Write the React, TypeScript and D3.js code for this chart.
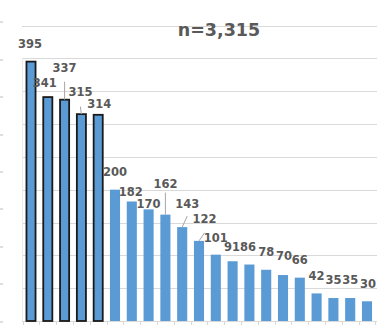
import React from "react";
import * as d3 from "d3";

const categories = Array.from({ length: 21 }, (_, i) => `c${i + 1}`);
const values = [395, 341, 337, 315, 314, 200, 182, 170, 162, 143, 122, 101, 91, 86, 78, 70, 66, 42, 35, 35, 30];
const highlighted = [true, true, true, true, true, false, false, false, false, false, false, false, false, false, false, false, false, false, false, false, false];
const yTicks = [50, 100, 150, 200, 250, 300, 350, 400, 450];
const title = "n=3,315";

// label placement offsets (dx from bar center, dy of baseline from bar top)
const labelOffsets: [number, number][] = [
  [-1, -14], [-3, -10.4], [0, -28], [-1, -18.5], [1, -7], [0, -14], [-1, -5.7], [0, -1.5],
  [0, -27], [5, -19], [5.5, -18], [0, -12.8], [-0.5, -10], [-1.5, -13.6], [0, -14], [1, -15],
  [0, -13.7], [0, -13.5], [0, -14], [0, -14], [1, -13.3],
];
// leader lines: bar index and gap below label baseline
const leaders: [number, number][] = [[2, 10], [3, 11], [8, 5], [9, 8], [10, 10]];

const W = 385, H = 329;

export default function App() {
  const x = d3.scaleBand<string>().domain(categories).range([22.6, 375.4]).paddingInner(0.4).paddingOuter(0.2);
  const y = d3.scaleLinear().domain([0, 450]).range([321, 25.5]);
  const bw = x.bandwidth();
  const step = x.step();
  const font = "'DejaVu Sans', Verdana, sans-serif";
  const leftMarks = [22, 60, 97, 135, 172, 209, 247, 284, 322];
  return (
    <svg width={W} height={H} style={{ position: "absolute", left: 0, top: 0, background: "#fff" }} fontFamily={font}>
      <rect x={0} y={0} width={W} height={H} fill="#fff" />
      {leftMarks.map((m, i) => (
        <line key={"lm" + i} x1={0} x2={3} y1={m} y2={m} stroke="#bfbfbf" strokeWidth={1} />
      ))}
      {yTicks.map((t) => (
        <line key={"g" + t} x1={22} x2={377} y1={Math.round(y(t)) + 0.5} y2={Math.round(y(t)) + 0.5} stroke="#d9d9d9" strokeWidth={1} />
      ))}
      <line x1={22.5} x2={22.5} y1={y(400)} y2={y(0)} stroke="#ececec" strokeWidth={1} />
      <line x1={22} x2={377} y1={321.5} y2={321.5} stroke="#d9d9d9" strokeWidth={1} />
      {d3.range(categories.length + 1).map((i) => {
        const bx = Math.round(22.6 + i * step) + 0.5;
        return <line key={"t" + i} x1={bx} x2={bx} y1={321.5} y2={325} stroke="#d9d9d9" strokeWidth={1} />;
      })}
      <text x={219} y={36} textAnchor="middle" fontSize={17.5} fontWeight="bold" fill="#595959">{title}</text>
      {values.map((v, i) => {
        const bx = x(categories[i])!;
        return highlighted[i] ? (
          <rect key={"b" + i} x={bx + 0.5} y={y(v)} width={bw - 1} height={y(0) - y(v)} fill="#5B9BD5" stroke="#1a1a1a" strokeWidth={1.8} />
        ) : (
          <rect key={"b" + i} x={bx} y={y(v)} width={bw} height={y(0) - y(v)} fill="#5B9BD5" />
        );
      })}
      {leaders.map(([i, gap]) => {
        const cx = x(categories[i])! + bw / 2;
        const [dx, dy] = labelOffsets[i];
        const top = y(values[i]);
        return <line key={"ld" + i} x1={cx} y1={top} x2={cx + dx} y2={top + dy + gap} stroke="#a6a6a6" strokeWidth={1} />;
      })}
      {values.map((v, i) => {
        const cx = x(categories[i])! + bw / 2;
        const [dx, dy] = labelOffsets[i];
        return (
          <text key={"l" + i} x={cx + dx} y={y(v) + dy} textAnchor="middle" fontSize={11.5} fontWeight="bold" fill="#595959">{v}</text>
        );
      })}
    </svg>
  );
}
